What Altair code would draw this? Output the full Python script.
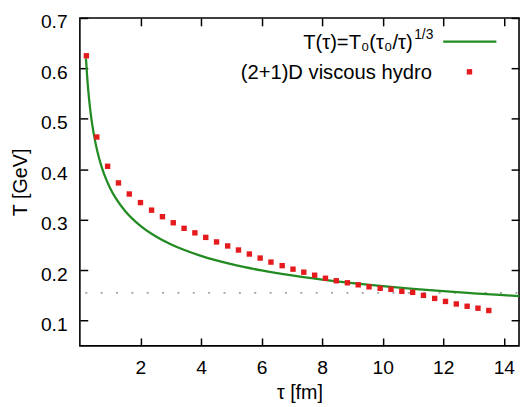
import altair as alt
import pandas as pd

# ---- data ----
hydro_tau = [0.214, 0.559, 0.916, 1.274, 1.631, 2.001, 2.368, 2.726, 3.083, 3.441,
             3.798, 4.156, 4.513, 4.880, 5.237, 5.595, 5.952, 6.309, 6.680, 7.037,
             7.394, 7.752, 8.109, 8.466, 8.834, 9.191, 9.548, 9.916, 10.273, 10.630,
             10.988, 11.345, 11.715, 12.073, 12.430, 12.787, 13.145, 13.502]
hydro_T = [0.625, 0.464, 0.406, 0.373, 0.351, 0.334, 0.319, 0.306, 0.294, 0.283,
           0.274, 0.265, 0.256, 0.248, 0.240, 0.232, 0.224, 0.216, 0.209, 0.202,
           0.196, 0.190, 0.184, 0.179, 0.175, 0.171, 0.167, 0.164, 0.162, 0.158,
           0.156, 0.150, 0.144, 0.138, 0.133, 0.1285, 0.1246, 0.120]

curve_tau = [0.2, 0.25, 0.3, 0.35, 0.4, 0.5, 0.6, 0.7, 0.8, 1.0, 1.2, 1.5, 2.0, 2.5,
             3.0, 4.0, 5.0, 6.0, 7.0, 8.0, 9.0, 10.0, 11.0, 12.0, 13.0, 14.0, 14.5]
curve_T = [0.620, 0.5755, 0.5416, 0.5145, 0.4921, 0.4568, 0.4299, 0.4083, 0.3906,
           0.3626, 0.3412, 0.3168, 0.2878, 0.2672, 0.2514, 0.2284, 0.2120, 0.1995,
           0.1895, 0.1813, 0.1743, 0.1683, 0.1631, 0.1583, 0.1542, 0.1504, 0.1487]

tc_value = [0.155]

x_ticks = [2, 4, 6, 8, 10, 12, 14]
y_ticks = [0.1, 0.2, 0.3, 0.4, 0.5, 0.6, 0.7]

legend_curve = "T(τ)=T₀(τ₀/τ)"
legend_sup = "1/3"
legend_hydro = "(2+1)D viscous hydro"

# ---- styling ----
FONT = "Liberation Sans"
FS_TICK = 19.5
FS_TITLE = 20
FS_LEG = 20.5
W, H = 446, 333
GREEN = "#228b22"
RED = "#e41a1c"

xs = alt.Scale(domain=[0, 14.5], nice=False, zero=False)
ys = alt.Scale(domain=[0.05, 0.7], nice=False, zero=False)

common_axis = dict(grid=False, domain=False, tickSize=8, offset=-8,
                   tickColor="black", tickWidth=1.5, labelColor="black",
                   labelFont=FONT, labelFontSize=FS_TICK, titleFont=FONT,
                   titleFontSize=FS_TITLE, titleFontWeight="normal", titleColor="black")

x_bottom = alt.Axis(orient="bottom", values=x_ticks, format="d", labelPadding=13,
                    title="τ [fm]", titleX=W / 2, titleY=61,
                    titleBaseline="alphabetic", **common_axis)
y_left = alt.Axis(orient="left", values=y_ticks, format=".1f", labelPadding=13,
                  labelOffset=4,
                  title="T [GeV]", titleX=-62.5, titleY=H / 2, titleAngle=270,
                  titleBaseline="alphabetic", **common_axis)
x_top = alt.Axis(orient="top", values=x_ticks, labels=False, title=None, **common_axis)
y_right = alt.Axis(orient="right", values=y_ticks, labels=False, title=None, **common_axis)

hydro_df = pd.DataFrame({"tau": hydro_tau, "T": hydro_T})
curve_df = pd.DataFrame({"tau": curve_tau, "T": curve_T})
tc_df = pd.DataFrame({"T": tc_value})

tc_rule = alt.Chart(tc_df).mark_rule(
    color="#a0a0a0", strokeDash=[2, 13.6], strokeDashOffset=13.9, strokeWidth=1.6
).encode(y=alt.Y("T:Q", scale=ys, axis=None))

curve = alt.Chart(curve_df).mark_line(
    color=GREEN, strokeWidth=2.3, interpolate="monotone", clip=True
).encode(
    x=alt.X("tau:Q", scale=xs, axis=x_bottom),
    y=alt.Y("T:Q", scale=ys, axis=y_left),
)

points = alt.Chart(hydro_df).mark_point(
    shape="square", filled=True, size=30, color=RED, opacity=1
).encode(
    x=alt.X("tau:Q", scale=xs, axis=x_top),
    y=alt.Y("T:Q", scale=ys, axis=y_right),
)

one = pd.DataFrame({"a": [0]})

leg_text1 = alt.Chart(pd.DataFrame({"t": [legend_curve]})).mark_text(
    align="right", baseline="alphabetic", font=FONT, fontSize=FS_LEG, color="black"
).encode(x=alt.value(338), y=alt.value(31.7), text="t:N")

leg_sup = alt.Chart(pd.DataFrame({"t": [legend_sup]})).mark_text(
    align="left", baseline="alphabetic", font=FONT, fontSize=14, color="black"
).encode(x=alt.value(339.5), y=alt.value(21.5), text="t:N")

leg_text2 = alt.Chart(pd.DataFrame({"t": [legend_hydro]})).mark_text(
    align="right", baseline="alphabetic", font=FONT, fontSize=FS_LEG, color="black"
).encode(x=alt.value(357.5), y=alt.value(62), text="t:N")

leg_line = alt.Chart(one).mark_rule(color=GREEN, strokeWidth=2.3).encode(
    x=alt.value(369), x2=alt.value(423), y=alt.value(24)
)

leg_point = alt.Chart(one).mark_point(
    shape="square", filled=True, size=30, color=RED, opacity=1
).encode(x=alt.value(395.7), y=alt.value(54.7))

chart = alt.layer(
    tc_rule, curve, points, leg_text1, leg_sup, leg_text2, leg_line, leg_point
).resolve_axis(
    x="independent", y="independent"
).properties(
    width=W, height=H,
    autosize=alt.AutoSizeParams(type="none"),
    padding={"left": 73, "top": 7, "right": 1, "bottom": 59},
).configure_view(
    stroke="black", strokeWidth=1.6
)

chart.save("out.html", embed_options={"renderer": "svg", "actions": False})
